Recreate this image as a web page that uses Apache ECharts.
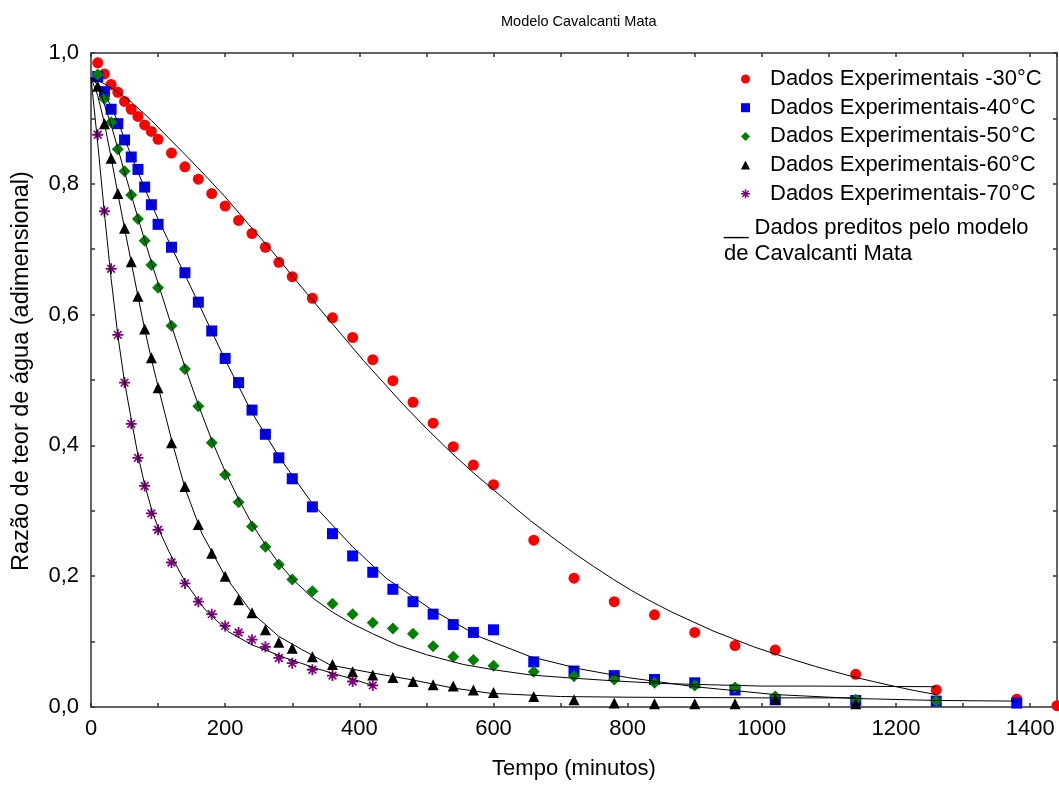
<!DOCTYPE html>
<html>
<head>
<meta charset="utf-8">
<script src="https://cdn.jsdelivr.net/npm/echarts@6/dist/echarts.min.js"></script>
<style>
html,body{margin:0;padding:0;background:#fff;}
#chart{width:1059px;height:787px;}
</style>
</head>
<body>
<div id="chart"></div>
<script>
// ---- Data ----
const titleText = 'Modelo Cavalcanti Mata';
const xName = 'Tempo (minutos)';
const yName = 'Razão de teor de água (adimensional)';
const xTickLabels = [0, 200, 400, 600, 800, 1000, 1200, 1400];
const yTickLabels = ['0,0', '0,2', '0,4', '0,6', '0,8', '1,0'];

const seriesNames = [
  'Dados Experimentais -30°C',
  'Dados Experimentais-40°C',
  'Dados Experimentais-50°C',
  'Dados Experimentais-60°C',
  'Dados Experimentais-70°C'
];
const modelLegendText = '__ Dados preditos pelo modelo\nde Cavalcanti Mata';

// 30 °C
const t30 = [10,20,30,40,50,60,70,80,90,100,120,140,160,180,200,220,240,260,280,300,330,360,390,420,450,480,510,540,570,600,660,720,780,840,900,960,1020,1140,1260,1380,1440];
const mr30 = [0.985,0.968,0.952,0.940,0.926,0.914,0.903,0.890,0.880,0.868,0.847,0.826,0.807,0.785,0.766,0.744,0.724,0.703,0.680,0.658,0.625,0.595,0.565,0.531,0.499,0.466,0.434,0.398,0.370,0.340,0.255,0.197,0.161,0.141,0.114,0.094,0.087,0.050,0.026,0.012,0.002];
// 40 °C
const t40 = [10,20,30,40,50,60,70,80,90,100,120,140,160,180,200,220,240,260,280,300,330,360,390,420,450,480,510,540,570,600,660,720,780,840,900,960,1020,1140,1260,1380];
const mr40 = [0.964,0.941,0.914,0.892,0.867,0.841,0.822,0.795,0.768,0.738,0.703,0.664,0.619,0.575,0.533,0.496,0.454,0.417,0.381,0.349,0.306,0.265,0.231,0.206,0.180,0.161,0.142,0.126,0.114,0.118,0.069,0.055,0.048,0.042,0.037,0.026,0.011,0.010,0.009,0.006];
// 50 °C
const t50 = [10,20,30,40,50,60,70,80,90,100,120,140,160,180,200,220,240,260,280,300,330,360,390,420,450,480,510,540,570,600,660,720,780,840,900,960,1020,1140,1260];
const mr50 = [0.967,0.930,0.894,0.853,0.819,0.783,0.746,0.713,0.676,0.641,0.583,0.517,0.460,0.404,0.355,0.313,0.276,0.245,0.218,0.195,0.177,0.158,0.142,0.129,0.120,0.112,0.093,0.077,0.072,0.063,0.054,0.047,0.042,0.037,0.033,0.030,0.016,0.011,0.009];
// 60 °C
const t60 = [10,20,30,40,50,60,70,80,90,100,120,140,160,180,200,220,240,260,280,300,330,360,390,420,450,480,510,540,570,600,660,720,780,840,900,960,1020,1140];
const mr60 = [0.949,0.892,0.839,0.785,0.732,0.681,0.628,0.578,0.534,0.488,0.404,0.337,0.279,0.235,0.200,0.164,0.144,0.118,0.099,0.090,0.077,0.065,0.054,0.049,0.045,0.039,0.034,0.032,0.026,0.022,0.016,0.011,0.006,0.005,0.005,0.005,0.012,0.005];
// 70 °C
const t70 = [10,20,30,40,50,60,70,80,90,100,120,140,160,180,200,220,240,260,280,300,330,360,390,420];
const mr70 = [0.875,0.758,0.670,0.569,0.496,0.433,0.381,0.338,0.296,0.271,0.221,0.189,0.161,0.142,0.124,0.114,0.103,0.092,0.075,0.067,0.057,0.048,0.039,0.033];

// Model curves (Cavalcanti Mata)
const tm30 = [0,20,40,60,90,115,140,170,200,235,270,305,340,373,406,436,466,500,536,568,600,628,655,687,719,749,779,806,834,866,898,928,958,988,1017,1048,1080,1108,1137,1166,1196,1228,1260];
const ym30 = [0.962,0.953,0.940,0.925,0.897,0.871,0.845,0.813,0.780,0.738,0.697,0.653,0.610,0.570,0.530,0.496,0.462,0.426,0.390,0.360,0.332,0.308,0.285,0.260,0.236,0.215,0.195,0.178,0.162,0.145,0.130,0.116,0.104,0.092,0.082,0.072,0.062,0.054,0.046,0.039,0.032,0.025,0.019];
const tm40 = [0,20,40,60,80,100,120,140,160,180,200,240,280,330,390,440,506,580,655,730,800,900,960,1020,1140,1260,1380];
const ym40 = [0.962,0.940,0.895,0.843,0.793,0.746,0.703,0.661,0.618,0.574,0.531,0.450,0.383,0.311,0.245,0.197,0.150,0.107,0.077,0.058,0.045,0.031,0.025,0.019,0.013,0.010,0.009];
const tm50 = [0,10,30,50,70,90,100,120,140,160,180,200,220,240,260,280,300,330,360,390,420,456,500,555,600,655,720,779,850,923,1000,1077,1260];
const ym50 = [0.962,0.952,0.890,0.818,0.748,0.680,0.648,0.583,0.520,0.462,0.408,0.360,0.318,0.280,0.248,0.220,0.196,0.167,0.145,0.127,0.112,0.095,0.080,0.065,0.057,0.049,0.044,0.040,0.036,0.034,0.032,0.032,0.031];
const tm60 = [0,10,20,30,40,50,60,70,80,90,100,120,140,165,200,240,280,314,357,420,476,540,595,700,800,1000,1140];
const ym60 = [0.962,0.935,0.893,0.840,0.785,0.732,0.680,0.628,0.578,0.532,0.490,0.409,0.335,0.266,0.200,0.144,0.108,0.088,0.064,0.052,0.042,0.029,0.021,0.016,0.015,0.014,0.014];
const tm70 = [0,10,20,30,40,50,60,70,80,91,100,116,141,170,205,240,290,339,389,420];
const ym70 = [0.962,0.862,0.755,0.655,0.568,0.497,0.440,0.385,0.340,0.300,0.274,0.238,0.190,0.149,0.115,0.095,0.075,0.058,0.043,0.033];

// ---- Build ----
const zip = (xs, ys) => xs.map((x, i) => [x, ys[i]]);
const FONT = "'Liberation Sans', Arial, sans-serif";
const asterisk = 'path://M-6,-1L6,-1L6,1L-6,1Z M-1,-6L1,-6L1,6L-1,6Z M-3.56,-4.84L4.84,3.56L3.56,4.84L-4.84,-3.56Z M-3.56,4.84L-4.84,3.56L3.56,-4.84L4.84,-3.56Z';

const scatterDefs = [
  {name: seriesNames[0], d: zip(t30, mr30), color: '#ff0000', symbol: 'circle', size: 11},
  {name: seriesNames[1], d: zip(t40, mr40), color: '#0000ff', symbol: 'rect', size: 11},
  {name: seriesNames[2], d: zip(t50, mr50), color: '#008000', symbol: 'diamond', size: 12},
  {name: seriesNames[3], d: zip(t60, mr60), color: '#000000', symbol: 'triangle', size: 11},
  {name: seriesNames[4], d: zip(t70, mr70), color: '#800080', symbol: asterisk, size: 11}
];
const modelDefs = [zip(tm30, ym30), zip(tm40, ym40), zip(tm50, ym50), zip(tm60, ym60), zip(tm70, ym70)];

const series = [];
scatterDefs.forEach(s => series.push({
  type: 'scatter', name: s.name, data: s.d, symbol: s.symbol, symbolSize: s.size,
  itemStyle: {color: s.color, opacity: 1}, z: 2, clip: false
}));
modelDefs.forEach((d, i) => series.push({
  type: 'line', name: 'model' + i, data: d, showSymbol: false, symbol: 'none',
  smooth: false,
  lineStyle: {color: '#000', width: 1}, z: 3, silent: true
}));

const axisLineStyle = {color: '#333', width: 1.5};
const xLabelFmt = v => (xTickLabels.indexOf(v) >= 0 ? String(v) : '');
const yLabelFmt = v => {
  const k = Math.round(v * 10);
  return k % 2 === 0 ? yTickLabels[k / 2] : '';
};

const option = {
  backgroundColor: '#fff',
  animation: false,
  title: {
    text: titleText, left: 496, top: 9,
    textStyle: {fontFamily: FONT, fontSize: 14.5, fontWeight: 'normal', color: '#000'}
  },
  grid: {left: 91, right: 2, top: 53, bottom: 80, containLabel: false},
  legend: {
    data: seriesNames, orient: 'vertical', left: 736, top: 63,
    itemWidth: 9, itemHeight: 9, itemGap: 6.7,
    textStyle: {fontFamily: FONT, fontSize: 22, color: '#000', lineHeight: 22, padding: [0, 0, 0, 15]},
    selectedMode: false
  },
  graphic: [{
    type: 'text', left: 724, top: 215,
    style: {text: modelLegendText, font: '22px ' + FONT, fill: '#000', lineHeight: 26}
  }],
  xAxis: [{
    type: 'value', min: 0, max: 1440, interval: 100, position: 'bottom',
    axisLine: {show: true, onZero: false, lineStyle: axisLineStyle},
    axisTick: {show: true, inside: true, length: 4, lineStyle: axisLineStyle},
    axisLabel: {formatter: xLabelFmt, fontFamily: FONT, fontSize: 22, color: '#000', margin: 11, showMaxLabel: false},
    splitLine: {show: false},
    name: xName, nameLocation: 'middle', nameGap: 51,
    nameTextStyle: {fontFamily: FONT, fontSize: 22, color: '#000'}
  }, {
    type: 'value', min: 0, max: 1440, interval: 100, position: 'top',
    axisLine: {show: true, onZero: false, lineStyle: axisLineStyle},
    axisTick: {show: true, inside: true, length: 4, lineStyle: axisLineStyle},
    axisLabel: {show: false}, splitLine: {show: false}
  }],
  yAxis: [{
    type: 'value', min: 0, max: 1, interval: 0.1, position: 'left',
    axisLine: {show: true, onZero: false, lineStyle: axisLineStyle},
    axisTick: {show: true, inside: true, length: 4, lineStyle: axisLineStyle},
    axisLabel: {formatter: yLabelFmt, fontFamily: FONT, fontSize: 22, color: '#000', margin: 12},
    splitLine: {show: false},
    name: yName, nameLocation: 'middle', nameGap: 57,
    nameTextStyle: {fontFamily: FONT, fontSize: 23.5, color: '#000', padding: [0, 0, 0, 18]}
  }, {
    type: 'value', min: 0, max: 1, interval: 0.1, position: 'right',
    axisLine: {show: true, onZero: false, lineStyle: axisLineStyle},
    axisTick: {show: true, inside: true, length: 4, lineStyle: axisLineStyle},
    axisLabel: {show: false}, splitLine: {show: false}
  }],
  series: series
};

const chart = echarts.init(document.getElementById('chart'), null, {renderer: 'canvas'});
chart.setOption(option);
</script>
</body>
</html>
